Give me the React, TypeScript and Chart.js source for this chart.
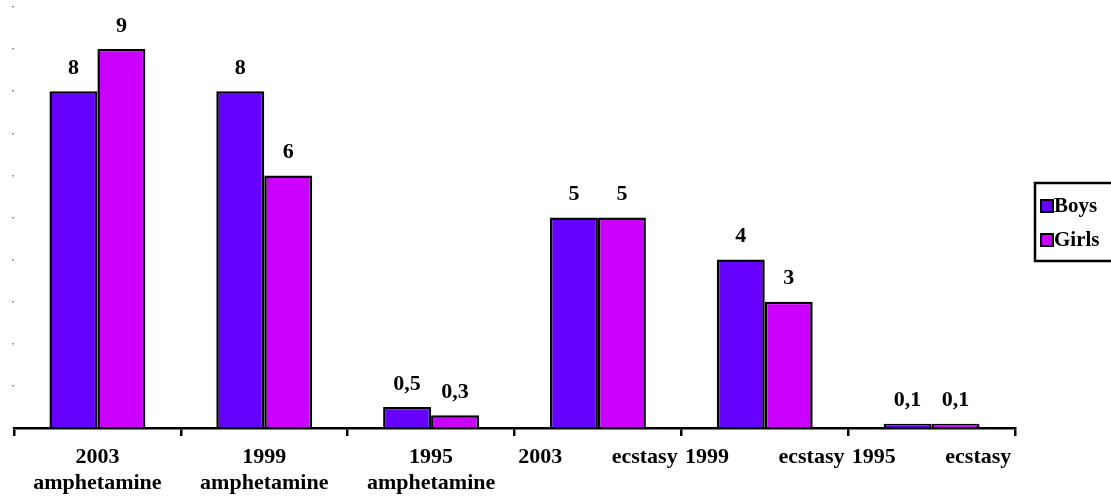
import React, { useEffect, useRef } from "react";
import { Chart, registerables } from "chart.js";

Chart.register(...registerables);

const categories: (string | string[])[] = [
  ["2003", "amphetamine"],
  ["1999", "amphetamine"],
  ["1995", "amphetamine"],
  "2003         ecstasy",
  "1999         ecstasy",
  "1995         ecstasy",
];
const boys = [8, 8, 0.5, 5, 4, 0.1];
const girls = [9, 6, 0.3, 5, 3, 0.1];
const seriesNames = ["Boys", "Girls"];
const seriesColors = ["#6600FF", "#CC00FF"];

const FONT = "'Liberation Serif', 'Times New Roman', serif";

const fmt = (v: number) => String(v).replace(".", ",");

const valueLabels = {
  id: "valueLabels",
  afterDatasetsDraw(chart: any) {
    const ctx = chart.ctx;
    ctx.save();
    ctx.font = `bold 22px ${FONT}`;
    ctx.fillStyle = "#000";
    ctx.textAlign = "center";
    ctx.textBaseline = "middle";
    chart.data.datasets.forEach((ds: any, i: number) => {
      const meta = chart.getDatasetMeta(i);
      meta.data.forEach((bar: any, j: number) => {
        ctx.fillText(fmt(ds.data[j]), bar.x, bar.y - 23);
      });
    });
    ctx.restore();
  },
};

const boxLegend = {
  id: "boxLegend",
  afterDraw(chart: any) {
    const ctx = chart.ctx;
    const x0 = 1035;
    const y0 = 183;
    const w = 90;
    const h = 78;
    ctx.save();
    ctx.strokeStyle = "#000";
    ctx.lineWidth = 2.5;
    ctx.strokeRect(x0, y0, w, h);
    ctx.font = `bold 21px ${FONT}`;
    ctx.textBaseline = "middle";
    ctx.textAlign = "left";
    chart.data.datasets.forEach((ds: any, i: number) => {
      const cy = y0 + 23 + i * 34;
      ctx.fillStyle = ds.backgroundColor;
      ctx.fillRect(x0 + 6, cy - 6, 12, 12);
      ctx.lineWidth = 2;
      ctx.strokeRect(x0 + 6, cy - 6, 12, 12);
      ctx.fillStyle = "#000";
      ctx.fillText(ds.label, x0 + 19, cy + 1);
    });
    ctx.restore();
  },
};

export default function App() {
  const ref = useRef<HTMLCanvasElement>(null);
  useEffect(() => {
    document.body.style.margin = "0";
    if (!ref.current) return;
    const chart = new Chart(ref.current, {
      type: "bar",
      data: {
        labels: categories,
        datasets: [
          {
            label: seriesNames[0],
            data: boys,
            backgroundColor: seriesColors[0],
            borderColor: "#000",
            borderWidth: 2.5,
          },
          {
            label: seriesNames[1],
            data: girls,
            backgroundColor: seriesColors[1],
            borderColor: "#000",
            borderWidth: 2.5,
          },
        ],
      },
      options: {
        animation: false,
        responsive: false,
        maintainAspectRatio: false,
        layout: { padding: { top: 7, right: 96, left: 0, bottom: 0 } },
        datasets: {
          bar: { barPercentage: 1, categoryPercentage: 0.575 },
        },
        plugins: {
          legend: { display: false },
          tooltip: { enabled: false },
        },
        scales: {
          x: {
            grid: {
              offset: true,
              drawOnChartArea: false,
              drawTicks: true,
              tickLength: 8,
              color: "#000",
              lineWidth: 2.5,
            },
            border: { display: true, color: "#000", width: 2.5 },
            ticks: {
              color: "#000",
              font: { family: FONT, size: 22, weight: "bold", lineHeight: 1.2 },
              padding: 8,
              maxRotation: 0,
              minRotation: 0,
              autoSkip: false,
            },
            afterFit(scale: any) {
              scale.height = 72;
            },
          },
          y: {
            min: 0,
            max: 10,
            ticks: { stepSize: 1, display: false },
            grid: {
              drawOnChartArea: false,
              drawTicks: true,
              tickLength: 2,
              color: "#999",
              lineWidth: 1.5,
            },
            border: { display: false },
            afterFit(scale: any) {
              scale.width = 14;
            },
          },
        },
      },
      plugins: [valueLabels, boxLegend],
    });
    return () => chart.destroy();
  }, []);
  return <canvas ref={ref} width={1111} height={500} style={{ display: "block" }} />;
}
